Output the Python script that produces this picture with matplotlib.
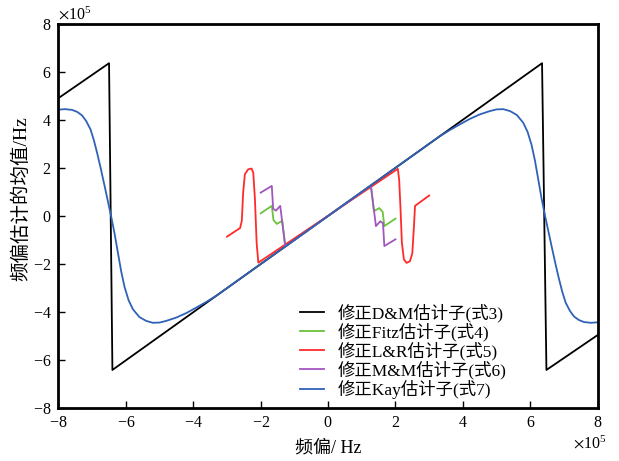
import matplotlib
matplotlib.use("Agg")
import matplotlib.pyplot as plt
import numpy as np
from matplotlib.ticker import ScalarFormatter

plt.rcParams['font.family'] = ['Liberation Serif', 'Noto Sans CJK SC']
plt.rcParams['mathtext.fontset'] = 'stix'
plt.rcParams['axes.unicode_minus'] = False

SCALE = 1e5

# D&M (black) vertices, units of 1e5 Hz
dm_x = [-8.0, -6.5, -6.4, 6.35, 6.48, 8.0]
dm_y = [4.9, 6.35, -6.4, 6.35, -6.4, -4.95]

# Fitz (green)
fitz_x = [-2.0, -1.67, -1.62, -1.52, -1.36, -1.27, 1.27, 1.36, 1.52, 1.62, 1.67, 2.0]
fitz_y = [0.11, 0.42, -0.17, -0.33, -0.2, -1.27, 1.27, 0.2, 0.33, 0.17, -0.42, -0.11]

# L&R (red)
lr_x = [-3.0, -2.61, -2.56, -2.52, -2.47, -2.37, -2.27, -2.22, -2.17, -2.12, -2.07,
        2.07, 2.11, 2.15, 2.19, 2.25, 2.33, 2.43, 2.50, 2.55, 2.58, 3.0]
lr_y = [-0.86, -0.5, -0.2, 0.97, 1.73, 1.94, 1.97, 1.8, 0.69, -1.11, -1.94,
        1.96, 1.5, 0.3, -1.1, -1.8, -1.95, -1.88, -1.55, -0.4, 0.42, 0.85]

# M&M (purple)
mm_x = [-2.0, -1.67, -1.63, -1.55, -1.42, -1.27, 1.27, 1.42, 1.55, 1.63, 1.67, 2.0]
mm_y = [0.97, 1.25, 0.3, 0.22, 0.42, -1.27, 1.27, -0.42, -0.22, -0.3, -1.25, -0.97]

# Kay (blue)
kay_x = [-8.0, -7.8, -7.6, -7.45, -7.3, -7.18, -7.05, -6.95, -6.85, -6.75, -6.64,
         -6.54, -6.44, -6.34, -6.24, -6.14, -6.04, -5.92, -5.79, -5.6, -5.4, -5.2,
         -5.0, -4.8, -4.5, -4.2, -3.9, -3.6, -3.3,
         3.3, 3.6, 3.9, 4.2, 4.5, 4.8, 5.0, 5.2, 5.4, 5.6, 5.79, 5.92, 6.04, 6.14,
         6.24, 6.34, 6.44, 6.54, 6.64, 6.75, 6.85, 6.95, 7.05, 7.18, 7.3, 7.45,
         7.6, 7.8, 8.0]
kay_y = [4.42, 4.44, 4.41, 4.33, 4.18, 3.95, 3.6, 3.15, 2.6, 2.0, 1.3,
         0.65, 0.0, -0.7, -1.5, -2.3, -2.95, -3.5, -3.88, -4.2, -4.36, -4.44,
         -4.43, -4.36, -4.22, -4.03, -3.8, -3.56, -3.3,
         3.3, 3.56, 3.8, 4.03, 4.22, 4.36, 4.43, 4.44, 4.36, 4.2, 3.88, 3.5, 2.95, 2.3,
         1.5, 0.7, 0.0, -0.65, -1.3, -2.0, -2.6, -3.15, -3.6, -3.95, -4.18, -4.33,
         -4.41, -4.44, -4.42]

labels = ['修正D&M估计子(式3)', '修正Fitz估计子(式4)', '修正L&R估计子(式5)',
          '修正M&M估计子(式6)', '修正Kay估计子(式7)']
colors = ['#000000', '#6cc23a', '#ff2a2a', '#a256c0', '#2f62b6']

xticks = [-8, -6, -4, -2, 0, 2, 4, 6, 8]
yticks = [-8, -6, -4, -2, 0, 2, 4, 6, 8]

fig = plt.figure(figsize=(6.19, 4.61), dpi=100)
ax = fig.add_axes([0.0945, 0.114, 0.871, 0.835])

series = [(dm_x, dm_y), (fitz_x, fitz_y), (lr_x, lr_y), (mm_x, mm_y), (kay_x, kay_y)]
for (xs, ys), c, lab in zip(series, colors, labels):
    ax.plot(np.array(xs) * SCALE, np.array(ys) * SCALE, color=c, lw=1.3, label=lab)

ax.set_xlim(-8 * SCALE, 8 * SCALE)
ax.set_ylim(-8 * SCALE, 8 * SCALE)
ax.set_xticks(np.array(xticks) * SCALE)
ax.set_yticks(np.array(yticks) * SCALE)
for axis in (ax.xaxis, ax.yaxis):
    fmt = ScalarFormatter(useMathText=True)
    fmt.set_powerlimits((0, 0))
    axis.set_major_formatter(fmt)
    axis.get_offset_text().set_fontsize(11.5)
ax.xaxis.get_offset_text().set_x(1.017)

ax.tick_params(direction='in', length=5, width=1, labelsize=11.5, top=False, right=False, pad=5)
for s in ax.spines.values():
    s.set_linewidth(2)

ax.set_xlabel('频偏/ Hz', fontsize=13, labelpad=6)
ax.set_ylabel('频偏估计的均值/Hz', fontsize=14)
ax.yaxis.set_label_coords(-0.052, 0.545)

leg = ax.legend(loc='upper left', bbox_to_anchor=((300 - 58.5) / 539.2, 1 - (304 - 23.5) / 385),
                frameon=False, fontsize=12.5, borderpad=0, borderaxespad=0,
                handlelength=1.4, handletextpad=0.8, labelspacing=0.02)

fig.savefig('out.png', dpi=100)
